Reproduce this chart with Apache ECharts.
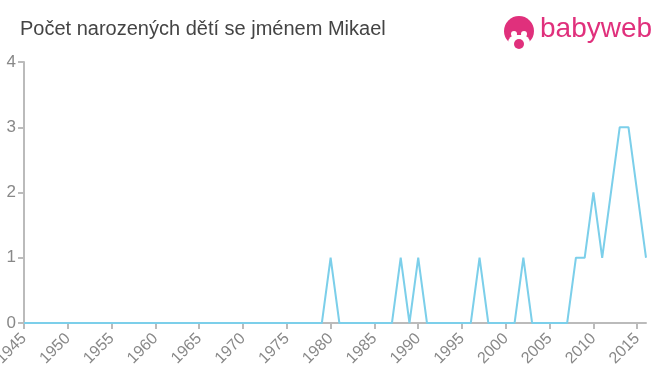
<!DOCTYPE html>
<html><head><meta charset="utf-8">
<script src="https://cdn.jsdelivr.net/npm/echarts@6/dist/echarts.min.js"></script>
<style>html,body{margin:0;padding:0;background:#fff}#c{width:660px;height:375px}</style>
</head><body><div id="c"></div>
<script>
const titleText = 'Počet narozených dětí se jménem Mikael';
const years = [];
for (let y = 1945; y <= 2016; y++) years.push(String(y));
const nonZero = {1980:1, 1988:1, 1990:1, 1997:1, 2002:1, 2008:1, 2009:1, 2010:2, 2011:1, 2012:2, 2013:3, 2014:3, 2015:2, 2016:1};
const counts = years.map(y => nonZero[y] || 0);
const yTicks = [0, 1, 2, 3, 4];

const chart = echarts.init(document.getElementById('c'));
const pink = '#e0307c';
const font = 'Liberation Sans, Arial, sans-serif';
chart.setOption({
  animation: false,
  title: { text: titleText, left: 20, top: 19, padding: 0, textStyle: { fontFamily: font, fontSize: 20, fontWeight: 'normal', color: '#444' } },
  grid: { left: 24, right: 14, top: 62, bottom: 52, containLabel: false, outerBoundsMode: 'none' },
  xAxis: {
    type: 'category', data: years, boundaryGap: false,
    axisLine: { lineStyle: { color: '#bbb', width: 2 } },
    axisTick: { interval: 4, length: 6, lineStyle: { color: '#bbb', width: 2 } },
    axisLabel: { interval: 4, rotate: 45, color: '#888', fontSize: 16, fontFamily: font, margin: 13, hideOverlap: false }
  },
  yAxis: {
    type: 'value', min: yTicks[0], max: yTicks[yTicks.length - 1], interval: 1,
    splitLine: { show: false },
    axisLine: { show: true, lineStyle: { color: '#bbb', width: 2 } },
    axisTick: { show: true, length: 6, lineStyle: { color: '#bbb', width: 2 } },
    axisLabel: { color: '#888', fontSize: 17, fontFamily: font, margin: 8 }
  },
  series: [{ type: 'line', data: counts, showSymbol: false, lineStyle: { color: '#7ccfea', width: 2 } }],
  graphic: [
    { type: 'circle', shape: { cx: 519, cy: 31, r: 15 }, style: { fill: pink } },
    { type: 'rect', shape: { x: 508, y: 35, width: 22, height: 16, r: 8 }, style: { fill: '#fff' } },
    { type: 'rect', shape: { x: 511, y: 31, width: 6, height: 6, r: 3 }, style: { fill: '#fff' } },
    { type: 'rect', shape: { x: 521, y: 31, width: 6, height: 6, r: 3 }, style: { fill: '#fff' } },
    { type: 'circle', shape: { cx: 519, cy: 44, r: 5 }, style: { fill: pink } },
    { type: 'text', left: 540, top: 15, style: { text: 'babyweb', fill: pink, fontSize: 28, fontFamily: font } }
  ]
});
</script></body></html>
